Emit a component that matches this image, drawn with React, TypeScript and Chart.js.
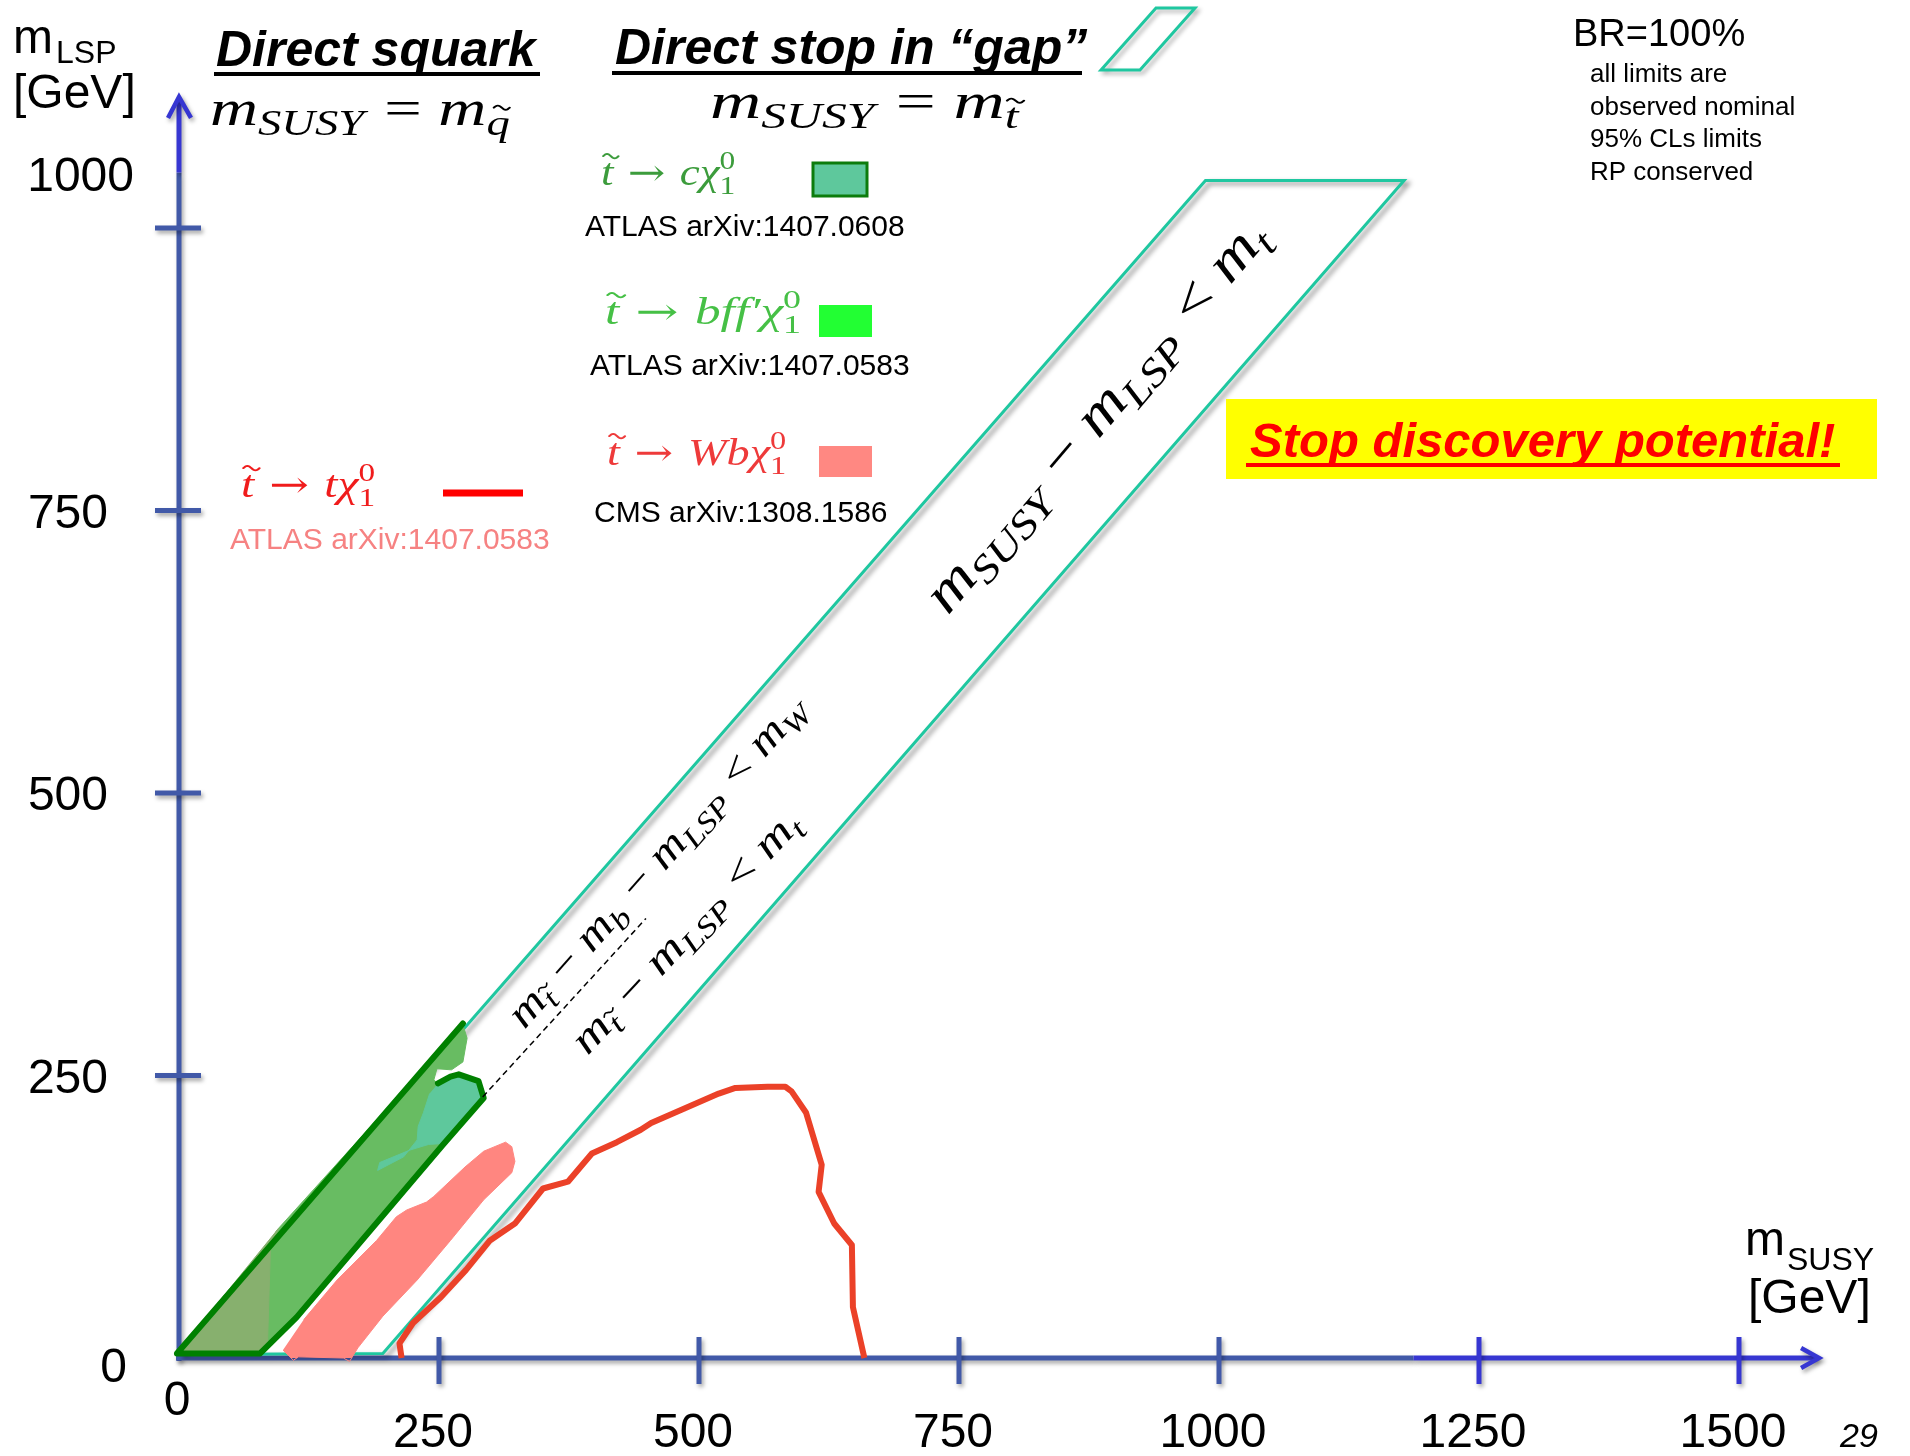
import React, { useEffect, useRef } from 'react';
import { Chart, registerables } from 'chart.js';

Chart.register(...registerables);

type Pt = [number, number];

// ---------- axes ----------
const xTickValues = [0, 250, 500, 750, 1000, 1250, 1500];
const xTickLabels = ['0', '250', '500', '750', '1000', '1250', '1500'];
const yTickValues = [0, 250, 500, 750, 1000];
const yTickLabels = ['0', '250', '500', '750', '1000'];
const xAxisEnd = 1577;
const yAxisEnd = 1116;
const xAxisBrightFrom = 1187;
const yAxisBrightFrom = 1049;

// ---------- regions (m_SUSY, m_LSP) in GeV ----------
const gapBand: Pt[] = [[0, 3], [987, 1042], [1178, 1042], [196, 4], [0, 3]];
const bffRegion: Pt[] = [
  [86, 100], [94, 113], [273, 295], [277, 283], [273, 262], [262, 255], [248, 256],
  [245, 246], [249, 243], [293, 230], [254, 189], [113, 36], [83, 9],
];
const bffLowRegion: Pt[] = [[-2, 4], [96, 115], [88, 100], [85, 9], [78, 4]];
const cChiRegion: Pt[] = [
  [249, 243], [269, 251], [288, 245], [293, 230], [257, 190], [240, 189], [222, 184],
  [193, 173], [191, 166], [216, 178], [229, 193], [230, 205], [235, 217], [241, 234],
];
const atlasOutline: Pt[] = [
  [249, 243], [261, 249], [269, 251], [288, 245], [293, 230], [254, 189], [113, 36],
  [78, 4], [-2, 4], [273, 296],
];
const wbChiRegion: Pt[] = [
  [100, 7], [110, -2], [115, 1], [158, 0], [164, -3], [172, 9], [196, 37], [229, 69],
  [261, 104], [293, 140], [320, 164], [323, 174], [320, 187], [314, 191], [293, 183],
  [275, 169], [245, 143], [238, 138], [219, 131], [209, 125], [190, 104], [152, 69], [120, 34],
];
const tChiLimit: Pt[] = [
  [214, 0], [212, 13], [225, 31], [252, 54], [276, 78], [299, 104], [323, 119], [350, 150],
  [374, 156], [397, 181], [421, 191], [444, 202], [454, 208], [519, 234], [535, 239],
  [566, 240], [583, 240], [589, 236], [603, 217], [618, 171], [615, 147], [630, 119],
  [647, 100], [648, 45], [659, 0],
];
const mWDivider: Pt[] = [[292, 231], [449, 389]];

// ---------- math labels ----------
type MTok = { t?: string; up?: boolean; sub?: boolean; tilde?: boolean; ss?: [string, string] };
const mathSquark: MTok[] = [{ t: 'm' }, { t: 'SUSY', sub: true }, { t: ' = ', up: true }, { t: 'm' }, { t: 'q', sub: true, tilde: true }];
const mathStop: MTok[] = [{ t: 'm' }, { t: 'SUSY', sub: true }, { t: ' = ', up: true }, { t: 'm' }, { t: 't', sub: true, tilde: true }];
const legCChi: MTok[] = [{ t: 't', tilde: true }, { t: ' → ', up: true }, { t: 'cχ' }, { ss: ['0', '1'] }];
const legBffChi: MTok[] = [{ t: 't', tilde: true }, { t: ' → ', up: true }, { t: 'bff′χ' }, { ss: ['0', '1'] }];
const legWbChi: MTok[] = [{ t: 't', tilde: true }, { t: ' → ', up: true }, { t: 'Wbχ' }, { ss: ['0', '1'] }];
const legTChi: MTok[] = [{ t: 't', tilde: true }, { t: ' → ', up: true }, { t: 'tχ' }, { ss: ['0', '1'] }];
const bandTop: MTok[] = [
  { t: 'm' }, { t: 'SUSY', sub: true }, { t: ' − ', up: true }, { t: 'm' }, { t: 'LSP', sub: true },
  { t: ' < ', up: true }, { t: 'm' }, { t: 't', sub: true },
];
const bandW: MTok[] = [
  { t: 'm' }, { t: 't', sub: true, tilde: true }, { t: ' − ', up: true }, { t: 'm' }, { t: 'b', sub: true },
  { t: ' − ', up: true }, { t: 'm' }, { t: 'LSP', sub: true }, { t: ' < ', up: true }, { t: 'm' }, { t: 'W', sub: true },
];
const bandT: MTok[] = [
  { t: 'm' }, { t: 't', sub: true, tilde: true }, { t: ' − ', up: true }, { t: 'm' }, { t: 'LSP', sub: true },
  { t: ' < ', up: true }, { t: 'm' }, { t: 't', sub: true },
];

const SANS = '"Liberation Sans", Arial, sans-serif';
const SERIF = '"Liberation Serif", "DejaVu Serif", serif';
const ARROWFONT = '"DejaVu Serif", "Liberation Serif", serif';
const TEAL = '#1fc7a0';
const AXIS = '#4159a8';
const AXIS_BRIGHT = '#3636d2';

function pts(a: Pt[]) {
  return a.map(([x, y]) => ({ x, y }));
}

function drawTilde(ctx: CanvasRenderingContext2D, cx: number, cy: number, w: number, h: number, lw: number) {
  ctx.save();
  ctx.lineWidth = lw;
  ctx.lineCap = 'round';
  ctx.beginPath();
  for (let i = 0; i <= 16; i++) {
    const t = i / 16;
    const x = cx - w / 2 + t * w;
    const y = cy - h * Math.sin(t * Math.PI * 2);
    if (i === 0) ctx.moveTo(x, y);
    else ctx.lineTo(x, y);
  }
  ctx.stroke();
  ctx.restore();
}

function tokFont(tk: MTok, F: number) {
  const size = tk.sub ? 0.7 * F : F;
  if (tk.up && (tk.t || '').includes('→')) return `${F}px ${ARROWFONT}`;
  return `${tk.up ? '' : 'italic '}${size}px ${SERIF}`;
}

function tokWidth(ctx: CanvasRenderingContext2D, tk: MTok, F: number) {
  if (tk.ss) {
    ctx.font = `${0.7 * F}px ${SERIF}`;
    return Math.max(ctx.measureText(tk.ss[0]).width, ctx.measureText(tk.ss[1]).width) + 0.04 * F;
  }
  ctx.font = tokFont(tk, F);
  return ctx.measureText(tk.t || '').width + (tk.sub ? 0.05 * F : 0);
}

function drawMath(
  ctx: CanvasRenderingContext2D,
  toks: MTok[],
  x: number,
  y: number,
  F: number,
  color: string,
  opt: { align?: 'left' | 'center'; rot?: number; width?: number } = {}
) {
  ctx.save();
  ctx.translate(x, y);
  if (opt.rot) ctx.rotate(opt.rot);
  const widths = toks.map((t) => tokWidth(ctx, t, F));
  const total = widths.reduce((a, b) => a + b, 0);
  const sx = opt.width ? opt.width / total : 1;
  ctx.scale(sx, 1);
  let cx = opt.align === 'center' ? -total / 2 : 0;
  ctx.fillStyle = color;
  ctx.strokeStyle = color;
  ctx.textAlign = 'left';
  ctx.textBaseline = 'alphabetic';
  toks.forEach((tk, i) => {
    if (tk.ss) {
      ctx.font = `${0.7 * F}px ${SERIF}`;
      ctx.fillText(tk.ss[0], cx, -0.43 * F);
      ctx.fillText(tk.ss[1], cx, 0.24 * F);
    } else {
      const size = tk.sub ? 0.7 * F : F;
      const dy = tk.sub ? 0.2 * F : 0;
      ctx.font = tokFont(tk, F);
      ctx.fillText(tk.t || '', cx, dy);
      if (tk.tilde) {
        const gw = ctx.measureText(tk.t || '').width;
        drawTilde(ctx, cx + gw * 0.5 + 0.08 * size, dy - 0.78 * size, 0.34 * size, 0.06 * size, Math.max(1.2, 0.05 * size));
      }
    }
    cx += widths[i];
  });
  ctx.restore();
}

function text(ctx: CanvasRenderingContext2D, s: string, x: number, y: number, font: string, color = '#000', align: CanvasTextAlign = 'left') {
  ctx.font = font;
  ctx.fillStyle = color;
  ctx.textAlign = align;
  ctx.textBaseline = 'alphabetic';
  ctx.fillText(s, x, y);
}

function seg(ctx: CanvasRenderingContext2D, x1: number, y1: number, x2: number, y2: number) {
  ctx.beginPath();
  ctx.moveTo(x1, y1);
  ctx.lineTo(x2, y2);
  ctx.stroke();
}

const decorPlugin = {
  id: 'decor',
  beforeDraw(chart: any) {
    const ctx = chart.ctx as CanvasRenderingContext2D;
    ctx.save();
    ctx.fillStyle = '#ffffff';
    ctx.fillRect(0, 0, chart.width, chart.height);
    ctx.restore();
  },
  beforeDatasetsDraw(chart: any) {
    const ctx = chart.ctx as CanvasRenderingContext2D;
    const xs = chart.scales.x;
    const ys = chart.scales.y;
    const x0 = xs.getPixelForValue(0);
    const y0 = ys.getPixelForValue(0);
    const yTop = ys.getPixelForValue(yAxisEnd);
    const xEnd = xs.getPixelForValue(xAxisEnd);
    const yBright = ys.getPixelForValue(yAxisBrightFrom);
    const xBright = xs.getPixelForValue(xAxisBrightFrom);
    ctx.save();
    ctx.shadowColor = 'rgba(0,0,0,0.35)';
    ctx.shadowBlur = 4;
    ctx.shadowOffsetX = 2;
    ctx.shadowOffsetY = 3;
    ctx.lineCap = 'butt';
    ctx.lineWidth = 5;
    ctx.strokeStyle = AXIS;
    seg(ctx, x0, y0 + 3, x0, yBright);
    seg(ctx, x0 - 3, y0, xBright, y0);
    ctx.strokeStyle = AXIS_BRIGHT;
    seg(ctx, x0, yBright, x0, yTop + 2);
    seg(ctx, xBright, y0, xEnd - 2, y0);
    ctx.lineWidth = 4.5;
    ctx.lineJoin = 'miter';
    ctx.beginPath();
    ctx.moveTo(x0 - 11, yTop + 21);
    ctx.lineTo(x0, yTop);
    ctx.lineTo(x0 + 12, yTop + 21);
    ctx.stroke();
    ctx.beginPath();
    ctx.moveTo(xEnd - 18, y0 - 10);
    ctx.lineTo(xEnd, y0);
    ctx.lineTo(xEnd - 18, y0 + 10);
    ctx.stroke();
    ctx.lineWidth = 5;
    ctx.strokeStyle = AXIS;
    yTickValues.forEach((v) => {
      if (v === 0) return;
      const y = ys.getPixelForValue(v);
      seg(ctx, x0 - 24, y, x0 + 22, y);
    });
    xTickValues.forEach((v) => {
      if (v === 0) return;
      const x = xs.getPixelForValue(v);
      ctx.strokeStyle = v >= xAxisBrightFrom ? AXIS_BRIGHT : AXIS;
      seg(ctx, x, y0 - 21, x, y0 + 26);
    });
    ctx.restore();

    ctx.save();
    const f48 = `48px ${SANS}`;
    const last = yTickValues.length - 1;
    yTickValues.forEach((v, i) => {
      const y = ys.getPixelForValue(v);
      if (i === 0) text(ctx, yTickLabels[i], x0 - 52, y0 + 24, f48, '#000', 'right');
      else if (i === last) text(ctx, yTickLabels[i], x0 - 45, y - 37, f48, '#000', 'right');
      else text(ctx, yTickLabels[i], x0 - 71, y + 17, f48, '#000', 'right');
    });
    xTickValues.forEach((v, i) => {
      const x = xs.getPixelForValue(v);
      if (v === 0) text(ctx, xTickLabels[i], x0 - 2, y0 + 57, f48, '#000', 'center');
      else text(ctx, xTickLabels[i], x - 6, y0 + 89, f48, '#000', 'center');
    });
    ctx.restore();
  },
  beforeDatasetDraw(chart: any, args: any) {
    if (chart.data.datasets[args.index].label === 'gap') {
      const ctx = chart.ctx as CanvasRenderingContext2D;
      ctx.save();
      ctx.shadowColor = 'rgba(0,0,0,0.45)';
      ctx.shadowBlur = 5;
      ctx.shadowOffsetX = 4;
      ctx.shadowOffsetY = 3;
    }
  },
  afterDatasetDraw(chart: any, args: any) {
    if (chart.data.datasets[args.index].label === 'gap') {
      chart.ctx.restore();
    }
  },
  afterDraw(chart: any) {
    const ctx = chart.ctx as CanvasRenderingContext2D;
    ctx.save();
    // axis titles
    text(ctx, 'm', 13, 53, `48px ${SANS}`);
    text(ctx, 'LSP', 56, 63, `32px ${SANS}`);
    text(ctx, '[GeV]', 13, 108, `48px ${SANS}`);
    text(ctx, 'm', 1745, 1255, `48px ${SANS}`);
    text(ctx, 'SUSY', 1787, 1270, `32px ${SANS}`);
    text(ctx, '[GeV]', 1748, 1313, `48px ${SANS}`);

    // titles
    const tf = `italic bold 50px ${SANS}`;
    text(ctx, 'Direct squark', 216, 66, tf);
    ctx.fillStyle = '#000';
    ctx.fillRect(214, 72, 326, 4);
    text(ctx, 'Direct stop in “gap”', 615, 64, tf);
    ctx.fillStyle = '#000';
    ctx.fillRect(612, 71, 470, 4);

    // small gap symbol
    ctx.save();
    ctx.shadowColor = 'rgba(0,0,0,0.3)';
    ctx.shadowBlur = 4;
    ctx.shadowOffsetX = 3;
    ctx.shadowOffsetY = 3;
    ctx.strokeStyle = TEAL;
    ctx.lineWidth = 3;
    ctx.beginPath();
    ctx.moveTo(1101, 70);
    ctx.lineTo(1156, 8);
    ctx.lineTo(1195, 8);
    ctx.lineTo(1140, 70);
    ctx.closePath();
    ctx.stroke();
    ctx.restore();

    drawMath(ctx, mathSquark, 210, 125, 50, '#000', { width: 303 });
    drawMath(ctx, mathStop, 710, 118, 50, '#000', { width: 312 });

    // legend entries
    const lf = `30px ${SANS}`;
    drawMath(ctx, legCChi, 601, 185, 37, '#3c9c3c', { width: 136 });
    ctx.fillStyle = '#5ec89c';
    ctx.fillRect(813, 163, 54, 33);
    ctx.strokeStyle = '#0c7c0c';
    ctx.lineWidth = 3;
    ctx.strokeRect(813, 163, 54, 33);
    text(ctx, 'ATLAS arXiv:1407.0608', 585, 236, lf);

    drawMath(ctx, legBffChi, 605, 324, 37, '#46c046', { width: 198 });
    ctx.fillStyle = '#22ff33';
    ctx.fillRect(819, 305, 53, 32);
    text(ctx, 'ATLAS arXiv:1407.0583', 590, 375, lf);

    drawMath(ctx, legWbChi, 607, 465, 37, '#ee3a3a', { width: 181 });
    ctx.fillStyle = '#ff8882';
    ctx.fillRect(819, 446, 53, 31);
    text(ctx, 'CMS arXiv:1308.1586', 594, 522, lf);

    drawMath(ctx, legTChi, 241, 497, 37, '#f01c1c', { width: 136 });
    ctx.strokeStyle = '#ff0000';
    ctx.lineWidth = 7;
    seg(ctx, 443, 493, 523, 493);
    text(ctx, 'ATLAS arXiv:1407.0583', 230, 549, lf, '#f68282');

    // band labels
    const deg = Math.PI / 180;
    drawMath(ctx, bandTop, 1110, 426, 56, '#000', { align: 'center', rot: -49.5 * deg, width: 500 });
    drawMath(ctx, bandW, 667, 869, 42, '#000', { align: 'center', rot: -48.5 * deg, width: 430 });
    drawMath(ctx, bandT, 696, 940, 42, '#000', { align: 'center', rot: -47 * deg, width: 318 });

    // notes
    text(ctx, 'BR=100%', 1573, 46, `38px ${SANS}`);
    const nf = `26px ${SANS}`;
    text(ctx, 'all limits are', 1590, 82, nf);
    text(ctx, 'observed nominal', 1590, 115, nf);
    text(ctx, '95% CLs limits', 1590, 147, nf);
    text(ctx, 'RP conserved', 1590, 180, nf);

    // discovery box
    ctx.fillStyle = '#ffff00';
    ctx.fillRect(1226, 399, 651, 80);
    text(ctx, 'Stop discovery potential!', 1250, 457, `italic bold 49px ${SANS}`, '#ff0000');
    ctx.fillStyle = '#ff0000';
    ctx.fillRect(1246, 463, 594, 4);

    // page number
    text(ctx, '29', 1840, 1447, `italic 34px ${SANS}`);
    ctx.restore();
  },
};

export default function App() {
  const ref = useRef<HTMLCanvasElement | null>(null);
  useEffect(() => {
    if (!ref.current) return;
    const base = { pointRadius: 0, pointHoverRadius: 0, tension: 0, clip: false as any, spanGaps: true };
    const chart = new Chart(ref.current, {
      type: 'line',
      data: {
        datasets: [
          { ...base, label: 'gap', data: pts(gapBand), borderColor: TEAL, borderWidth: 3, fill: false, order: 10 },
          { ...base, label: 'bff', data: pts(bffRegion), borderColor: '#68bc62', borderWidth: 1, backgroundColor: '#68bc62', fill: 'shape', order: 9 },
          { ...base, label: 'bffLow', data: pts(bffLowRegion), borderColor: '#87b06e', borderWidth: 1, backgroundColor: '#87b06e', fill: 'shape', order: 8 },
          { ...base, label: 'cchi', data: pts(cChiRegion), borderColor: '#5ec89c', borderWidth: 1, backgroundColor: '#5ec89c', fill: 'shape', order: 7 },
          { ...base, label: 'wbchi', data: pts(wbChiRegion), borderColor: '#ff8680', borderWidth: 1, backgroundColor: '#ff8680', fill: 'shape', order: 6 },
          { ...base, label: 'outline', data: pts(atlasOutline), borderColor: '#008000', borderWidth: 6, borderJoinStyle: 'round', borderCapStyle: 'round', fill: false, order: 5 },
          { ...base, label: 'tchi', data: pts(tChiLimit), borderColor: '#eb4128', borderWidth: 6, borderJoinStyle: 'round', fill: false, order: 4 },
          { ...base, label: 'divider', data: pts(mWDivider), borderColor: '#000', borderWidth: 1.5, borderDash: [6, 4], fill: false, order: 3 },
        ] as any,
      },
      options: {
        animation: false,
        responsive: false,
        devicePixelRatio: 1,
        events: [],
        layout: { padding: { left: 179, right: 67, top: 115, bottom: 98 } },
        scales: {
          x: { type: 'linear', min: 0, max: 1600, display: false },
          y: { type: 'linear', min: 0, max: 1100, display: false },
        },
        plugins: { legend: { display: false }, tooltip: { enabled: false }, title: { display: false } },
      } as any,
      plugins: [decorPlugin as any],
    });
    return () => chart.destroy();
  }, []);
  return (
    <div style={{ position: 'absolute', left: 0, top: 0, width: 1910, height: 1456, background: '#fff' }}>
      <canvas ref={ref} width={1910} height={1456} style={{ display: 'block', width: 1910, height: 1456 }} />
    </div>
  );
}
